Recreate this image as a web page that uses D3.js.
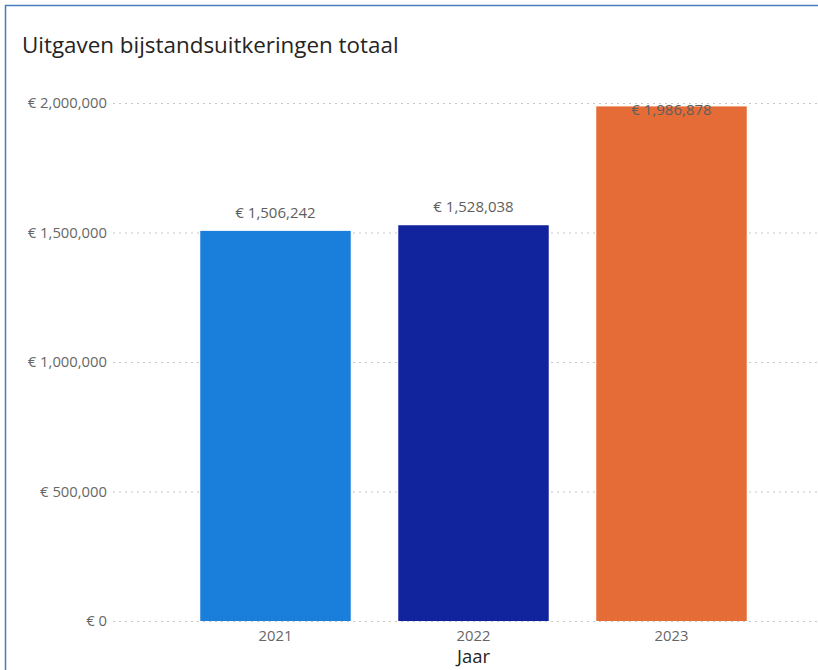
<!DOCTYPE html>
<html>
<head>
<meta charset="utf-8">
<script src="https://cdn.jsdelivr.net/npm/d3@7"></script>
<style>
  html, body { margin: 0; padding: 0; background: #fff; }
  svg { display: block; }
</style>
</head>
<body>
<script>
const years = ["2021", "2022", "2023"];
const values = [1506242, 1528038, 1986878];
const colors = ["#1a7fdb", "#12239e", "#e66c37"];
const yTicks = [0, 500000, 1000000, 1500000, 2000000];
const title = "Uitgaven bijstandsuitkeringen totaal";
const xTitle = "Jaar";

const W = 818, H = 670;
const svg = d3.select("body").append("svg").attr("width", W).attr("height", H);
const font = "'Open Sans', 'Noto Sans', sans-serif";

// frame
svg.append("rect").attr("x", 5.5).attr("y", 5.5).attr("width", 830).attr("height", 700)
  .attr("fill", "#fff").attr("stroke", "#4a7cc2").attr("stroke-width", 1.5);

svg.append("text").attr("x", 22).attr("y", 53)
  .attr("font-family", font).attr("font-size", 22.4).attr("fill", "#252423")
  .text(title);

const x = d3.scaleBand().domain(years).range([176.5, 770.5]).paddingInner(0.24).paddingOuter(0.12);
const y = d3.scaleLinear().domain([0, 2000000]).range([621, 103]);

const fmt = v => "€ " + d3.format(",")(v);

// gridlines
svg.append("g").selectAll("line").data(yTicks).join("line")
  .attr("x1", 113).attr("x2", W).attr("y1", d => y(d) + 0.5).attr("y2", d => y(d) + 0.5)
  .attr("stroke", "#c8c8c8").attr("stroke-width", 1).attr("stroke-dasharray", "2,4");

// y axis
const yAxis = svg.append("g").attr("transform", "translate(107,0)")
  .call(d3.axisLeft(y).tickValues(yTicks).tickSize(0).tickPadding(0).tickFormat(fmt));
yAxis.select(".domain").remove();
yAxis.selectAll("text").attr("font-family", font).attr("font-size", 14.8).attr("fill", "#666");

// bars
svg.append("g").selectAll("rect").data(years).join("rect")
  .attr("x", d => x(d)).attr("width", x.bandwidth())
  .attr("y", (d, i) => y(values[i])).attr("height", (d, i) => y(0) - y(values[i]))
  .attr("fill", (d, i) => colors[i]);

// x axis
const xAxis = svg.append("g").attr("transform", "translate(0,621)")
  .call(d3.axisBottom(x).tickSize(0).tickPadding(9));
xAxis.select(".domain").remove();
xAxis.selectAll("text").attr("font-family", font).attr("font-size", 14.8).attr("fill", "#666");

svg.append("text").attr("x", x("2022") + x.bandwidth() / 2).attr("y", 663)
  .attr("text-anchor", "middle").attr("font-family", font).attr("font-size", 18.5).attr("fill", "#252423")
  .text(xTitle);

// data labels
svg.append("g").selectAll("text").data(years).join("text")
  .attr("x", d => x(d) + x.bandwidth() / 2)
  .attr("y", (d, i) => {
    const top = y(values[i]);
    return top - 40 < 103 - 10 ? top + 9 : top - 13;
  })
  .attr("text-anchor", "middle").attr("font-family", font).attr("font-size", 15).attr("fill", "#605e5c")
  .text((d, i) => fmt(values[i]));
</script>
</body>
</html>
